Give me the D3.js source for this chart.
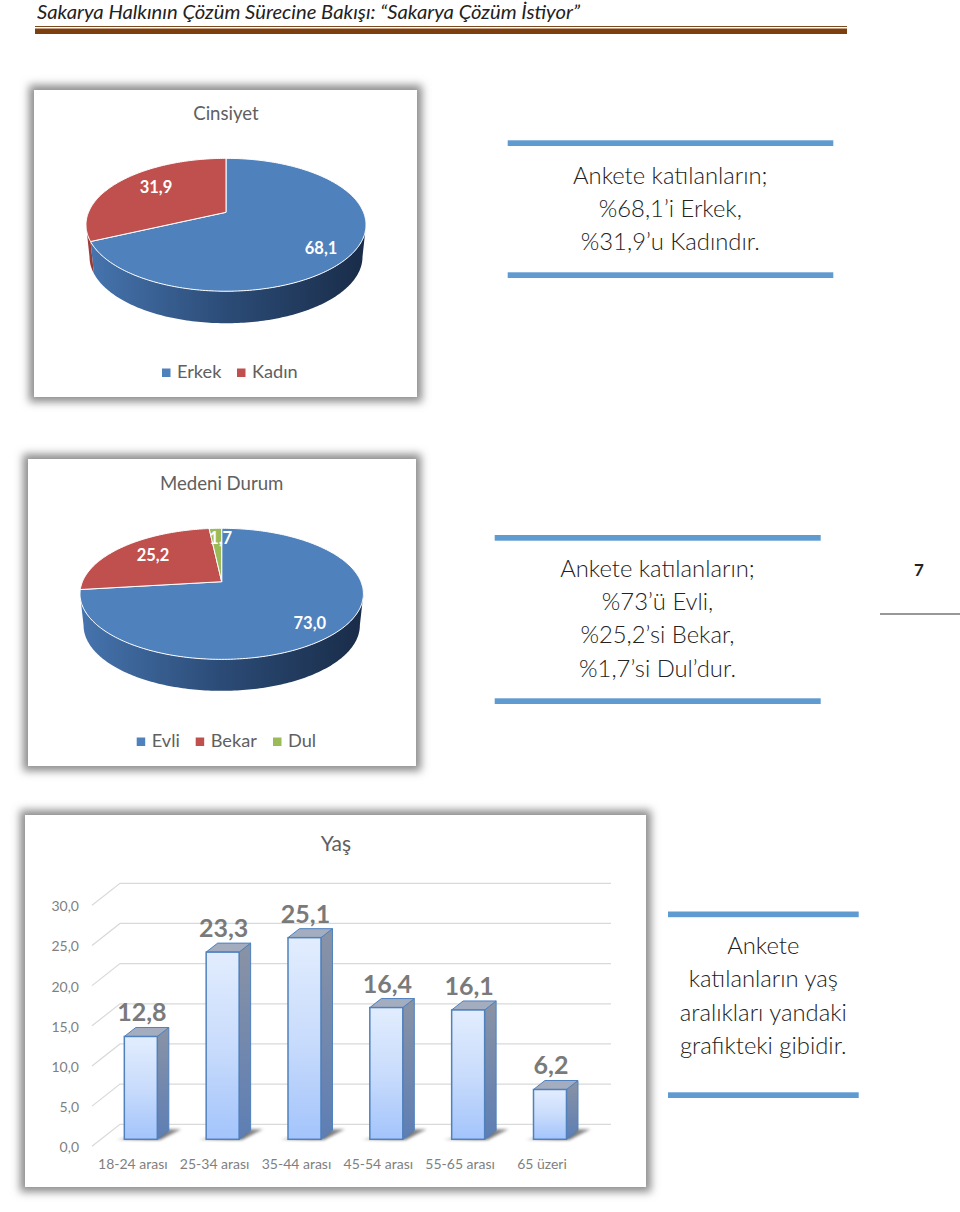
<!DOCTYPE html>
<html>
<head>
    <meta charset="utf-8">
    <title>Sakarya</title>
    <script src="https://cdnjs.cloudflare.com/ajax/libs/d3/7.8.5/d3.min.js"></script>
    <style>
        html, body { margin: 0; background: #fff; }
        svg { display: block; font-family: Lato, "Open Sans", sans-serif; }
        .axis path, .axis line { display: none; }
    </style>
</head>
<body>
<div id="page"></div>
<script>
    // values
    const genderNames = ["Erkek", "Kadın"];
    const genderValues = [68.1, 31.9];
    const maritalNames = ["Evli", "Bekar", "Dul"];
    const maritalValues = [73.0, 25.2, 1.7];
    const ageGroups = ["18-24 arası", "25-34 arası", "35-44 arası", "45-54 arası", "55-65 arası", "65 üzeri"];
    const ageValues = [12.8, 23.3, 25.1, 16.4, 16.1, 6.2];
    const ageTicks = [0, 5, 10, 15, 20, 25, 30];

    const headerText = "Sakarya Halkının Çözüm Sürecine Bakışı: “Sakarya Çözüm İstiyor”";
    const genderNote = ["Ankete katılanların;", "%68,1’i Erkek,", "%31,9’u Kadındır."];
    const maritalNote = ["Ankete katılanların;", "%73’ü Evli,", "%25,2’si Bekar,", "%1,7’si Dul’dur."];
    const ageNote = ["Ankete", "katılanların yaş", "aralıkları yandaki", "grafikteki gibidir."];

    const width = 960, height = 1212;
    const pieColors = ["#4f81bd", "#c0504d", "#9bbb59"];
    const comma = d3.formatLocale({decimal: ",", thousands: ".", grouping: [3], currency: ["", ""]}).format(".1f");

    const svg = d3.select("#page").append("svg")
        .attr("width", width)
        .attr("height", height);

    const defs = svg.append("defs");
    defs.append("filter").attr("id", "cardBlur")
        .attr("x", "-10%").attr("y", "-10%").attr("width", "120%").attr("height", "120%")
        .append("feGaussianBlur").attr("stdDeviation", 4);
    defs.append("filter").attr("id", "floorBlur")
        .attr("x", "-30%").attr("y", "-50%").attr("width", "160%").attr("height", "200%")
        .append("feGaussianBlur").attr("stdDeviation", 1.6);

    function addGradient(id, stops, vertical) {
        const g = defs.append("linearGradient").attr("id", id)
            .attr("x1", 0).attr("y1", 0)
            .attr("x2", vertical ? 0 : 1).attr("y2", vertical ? 1 : 0);
        stops.forEach(s => g.append("stop").attr("offset", s[0]).attr("stop-color", s[1]));
    }
    addGradient("sideBlue", [[0, "#4674ae"], [0.5, "#2b4b76"], [1, "#192c48"]], false);
    addGradient("sideRed", [[0, "#a8423f"], [1, "#8c3836"]], false);
    addGradient("sideGreen", [[0, "#7f9a48"], [1, "#6b8240"]], false);
    addGradient("barFront", [[0, "#e2edfe"], [0.5, "#c9dcfc"], [1, "#a3c4fb"]], true);
    addGradient("barSide", [[0, "#8a93a5"], [1, "#5d7eb4"]], true);
    addGradient("floorShade", [[0, "#c8c8c8"], [0.5, "#5a5a5a"], [1, "#999"]], false);
    const sideFills = ["url(#sideBlue)", "url(#sideRed)", "url(#sideGreen)"];

    // page header
    svg.append("text")
        .attr("x", 37).attr("y", 19.2)
        .attr("textLength", 543).attr("lengthAdjust", "spacingAndGlyphs")
        .attr("font-size", 19.4).attr("font-style", "italic").attr("fill", "#222")
        .text(headerText);
    svg.append("rect").attr("x", 35).attr("y", 26).attr("width", 812).attr("height", 1).attr("fill", "#7b4a20");
    svg.append("rect").attr("x", 35).attr("y", 28.5).attr("width", 812).attr("height", 5.5).attr("fill", "#7e3f0f");

    // page number
    svg.append("text")
        .attr("x", 919).attr("y", 575.5).attr("text-anchor", "middle")
        .attr("font-size", 17).attr("font-weight", 700).attr("fill", "#222")
        .text("7");
    svg.append("rect").attr("x", 880).attr("y", 613.5).attr("width", 80).attr("height", 1).attr("fill", "#333");

    function card(x0, y0, x1, y1) {
        svg.append("rect")
            .attr("x", x0 - 5).attr("y", y0 - 5).attr("width", x1 - x0 + 10).attr("height", y1 - y0 + 10)
            .attr("fill", "#8c8c8c").attr("filter", "url(#cardBlur)");
        svg.append("rect")
            .attr("x", x0).attr("y", y0).attr("width", x1 - x0).attr("height", y1 - y0)
            .attr("fill", "#fff");
    }

    function note(lines, cx, baselines, x0, x1, barTop, barBottom) {
        [barTop, barBottom].forEach(y => svg.append("rect")
            .attr("x", x0).attr("y", y).attr("width", x1 - x0).attr("height", 5.7)
            .attr("fill", "#5f9bd1"));
        lines.forEach((line, i) => svg.append("text")
            .attr("x", cx).attr("y", baselines[i]).attr("text-anchor", "middle")
            .attr("font-size", 23.8).attr("font-weight", 300).attr("fill", "#222")
            .text(line));
    }

    // 3D pie: the flat circle goes through a perspective projection
    function drawPie(names, values, o) {
        const rxP = o.rx * Math.sqrt(1 - o.k * o.k);
        const project = (a, f) => {
            const X = Math.sin(a) * f, Y = -Math.cos(a) * f, w = 1 - o.k * Y;
            return [o.cx + rxP * X / w, o.cy + o.ry * Y / w];
        };
        const lower = p => [o.cx + (p[0] - o.cx) * o.narrow, p[1] + o.depth];
        const line = d3.line();
        const arcs = d3.pie().sort(null)(values);
        const step = Math.PI / 180;
        const edgeRight = Math.acos(-o.k), edgeLeft = 2 * Math.PI - edgeRight;

        // sides first, only the front of the rim shows
        arcs.forEach((d, i) => {
            const from = Math.max(d.startAngle, edgeRight), to = Math.min(d.endAngle, edgeLeft);
            if (to <= from) return;
            const angles = d3.range(from, to, step).concat(to);
            const rim = angles.map(a => project(a, 1));
            const pts = rim.concat(rim.map(lower).reverse());
            svg.append("path").attr("d", line(pts) + "Z").attr("fill", sideFills[i]);
        });

        // top faces
        arcs.forEach((d, i) => {
            const angles = d3.range(d.startAngle, d.endAngle, step).concat(d.endAngle);
            const pts = [project(0, 0)].concat(angles.map(a => project(a, 1)));
            svg.append("path").attr("d", line(pts) + "Z")
                .attr("fill", pieColors[i])
                .attr("stroke", "#fff").attr("stroke-width", 1).attr("stroke-linejoin", "round");
        });

        arcs.forEach((d, i) => {
            const p = project((d.startAngle + d.endAngle) / 2, 0.75);
            svg.append("text")
                .attr("x", p[0] + o.nudge[i][0]).attr("y", p[1] + o.nudge[i][1])
                .attr("text-anchor", "middle")
                .attr("font-size", 16.5).attr("font-weight", 700).attr("fill", "#fff")
                .text(comma(d.data));
        });

        svg.append("text")
            .attr("x", o.cx).attr("y", o.titleY).attr("text-anchor", "middle")
            .attr("font-size", 18.6).attr("fill", "#606060")
            .text(o.title);

        names.forEach((name, i) => {
            svg.append("rect")
                .attr("x", o.legendX[i]).attr("y", o.legendY - 9)
                .attr("width", 8.5).attr("height", 8.5)
                .attr("fill", pieColors[i]);
            svg.append("text")
                .attr("x", o.legendX[i] + 15).attr("y", o.legendY)
                .attr("font-size", 18.2).attr("fill", "#606060")
                .text(name);
        });
    }

    card(34, 90, 417, 397);
    drawPie(genderNames, genderValues, {
        title: "Cinsiyet", titleY: 120,
        cx: 226, cy: 212.3, rx: 140, ry: 64.1, k: 0.188, depth: 32, narrow: 0.975,
        nudge: [[1, 14], [10.7, 4.8]],
        legendX: [162, 237], legendY: 377.5
    });

    card(28, 459, 416, 766);
    drawPie(maritalNames, maritalValues, {
        title: "Medeni Durum", titleY: 489.5,
        cx: 221.7, cy: 581.7, rx: 141.7, ry: 63.3, k: 0.185, depth: 31.5, narrow: 0.975,
        nudge: [[2, 12.7], [6.6, 6.5], [3.9, 4]],
        legendX: [136.7, 195.7, 273], legendY: 746.5
    });

    card(25, 815, 646, 1187);

    // bar chart
    const x = d3.scaleBand().domain(ageGroups).range([99.9, 590.9]).paddingInner(0.597).paddingOuter(0.2985);
    const y = d3.scaleLinear().domain([0, 30]).range([1139.3, 898.3]);
    const backDx = 11.5, backDy = -9, wallDy = -15;

    svg.append("text")
        .attr("x", 336).attr("y", 851).attr("text-anchor", "middle")
        .attr("font-size", 21).attr("fill", "#606060")
        .text("Yaş");

    const grid = svg.append("g").attr("fill", "none").attr("stroke", "#d9d9d9").attr("stroke-width", 1.2);
    ageTicks.forEach(t => {
        const yy = y(t) + wallDy;
        grid.append("path").attr("d", d3.line()([[92, yy + 22], [120, yy], [611, yy]]));
    });

    svg.append("g").attr("class", "axis")
        .attr("transform", "translate(79,8)")
        .call(d3.axisLeft(y).tickValues(ageTicks).tickSize(0).tickPadding(0).tickFormat(comma))
        .call(g => g.selectAll("text").attr("font-family", "Lato, sans-serif").attr("font-size", 14).attr("fill", "#7f7f7f"));

    svg.append("g").attr("class", "axis")
        .attr("transform", "translate(-8,1139)")
        .call(d3.axisBottom(x).tickSize(0).tickPadding(20))
        .call(g => g.selectAll("text").attr("font-family", "Lato, sans-serif").attr("font-size", 14).attr("fill", "#7f7f7f"));

    const line = d3.line();
    ageGroups.forEach((group, i) => {
        const x0 = x(group), x1 = x0 + x.bandwidth(), base = y(0), top = y(ageValues[i]);
        // floor shadow
        svg.append("path")
            .attr("d", line([[x0 - 8, base + 0.5], [x1 + 3, base + 0.5], [x1 + 24, base - 10], [x1 + 8, base - 10]]) + "Z")
            .attr("fill", "url(#floorShade)").attr("filter", "url(#floorBlur)");
        // side
        svg.append("path")
            .attr("d", line([[x1, top], [x1 + backDx, top + backDy], [x1 + backDx, base + backDy], [x1, base]]) + "Z")
            .attr("fill", "url(#barSide)").attr("stroke", "#4f81bd").attr("stroke-width", 1).attr("stroke-linejoin", "round");
        // top
        svg.append("path")
            .attr("d", line([[x0, top], [x0 + backDx, top + backDy], [x1 + backDx, top + backDy], [x1, top]]) + "Z")
            .attr("fill", "#a3adbf").attr("stroke", "#4f81bd").attr("stroke-width", 1).attr("stroke-linejoin", "round");
        // front
        svg.append("rect")
            .attr("x", x0).attr("y", top).attr("width", x.bandwidth()).attr("height", base - top)
            .attr("fill", "url(#barFront)").attr("stroke", "#4f81bd").attr("stroke-width", 1.5);
        svg.append("text")
            .attr("x", (x0 + x1) / 2 + 1).attr("y", top - 15).attr("text-anchor", "middle")
            .attr("font-size", 25).attr("font-weight", 700).attr("fill", "#7a7a7a")
            .text(comma(ageValues[i]));
    });

    // notes next to the charts
    note(genderNote, 670.3, [184, 217, 250], 507.7, 833.3, 140.3, 272.3);
    note(maritalNote, 657.5, [577, 610, 643, 676.5], 494.7, 820.7, 535, 698.3);
    note(ageNote, 763.3, [954, 987, 1020.5, 1054], 668, 858.7, 911.5, 1092.3);
</script>
</body>
</html>
